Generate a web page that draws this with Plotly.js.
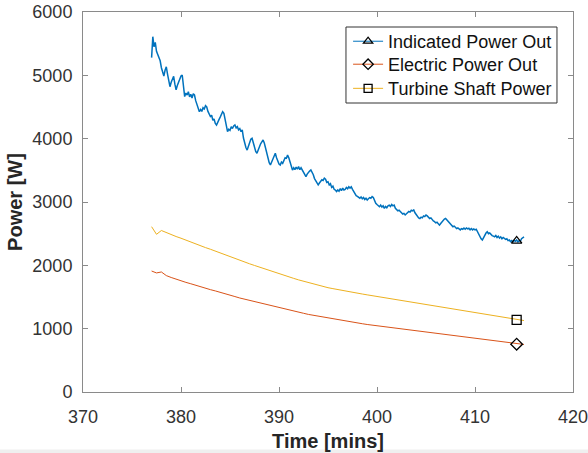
<!DOCTYPE html>
<html>
<head>
<meta charset="utf-8">
<script src="https://cdn.plot.ly/plotly-3.0.1.min.js"></script>
<style>html,body{margin:0;padding:0;background:#fff;}#chart{width:588px;height:453px;}</style>
</head>
<body>
<div id="chart"></div>
<script>
// ---- data ----
const seriesNames = ["Indicated Power Out", "Electric Power Out", "Turbine Shaft Power"];

// Indicated power: samples every 0.125 min starting at 377 min
const indicatedStart = 377;
const indicatedStep = 0.125;
const indicatedPower = [
  5280, 5610, 5450, 5520, 5380, 5330, 5270, 5230,
  5120, 5060, 4990, 5080, 5135, 5020, 4930, 4820,
  4890, 4950, 4985, 4860, 4770, 4840, 4900, 4960,
  4990, 5005, 4860, 4665, 4720, 4690, 4740, 4660,
  4700, 4640, 4710, 4690, 4600, 4530, 4470, 4425,
  4460, 4430, 4490, 4470, 4520, 4500, 4430, 4390,
  4350, 4370, 4290, 4310, 4240, 4215, 4270, 4300,
  4340, 4380, 4425, 4400, 4290, 4200, 4110, 4150,
  4130, 4190, 4160, 4200, 4215, 4170, 4190, 4140,
  4160, 4110, 4140, 4010, 3920, 3860, 3820, 3880,
  3930, 3990, 4005, 3930, 3850, 3800, 3770, 3830,
  3870, 3920, 3950, 3980, 3930, 3850, 3760, 3690,
  3620, 3585, 3640, 3690, 3740, 3770, 3700, 3640,
  3600, 3585, 3630, 3610, 3670, 3700, 3690, 3740,
  3700, 3620, 3560, 3505, 3540, 3510, 3550, 3520,
  3560, 3510, 3540, 3500, 3460, 3420, 3400, 3440,
  3470, 3490, 3505, 3470, 3430, 3370, 3330, 3290,
  3270, 3300, 3320, 3350, 3340, 3375, 3360, 3310,
  3320, 3270, 3290, 3230, 3250, 3200, 3190, 3165,
  3190, 3170, 3210, 3180, 3220, 3190, 3200, 3230,
  3210, 3240, 3220, 3240, 3200, 3160, 3130, 3100,
  3090, 3070, 3060, 3080, 3050, 3070, 3040, 3060,
  3030, 3050, 3070, 3060, 3085, 3070, 3020, 2980,
  2960, 2940, 2925, 2950, 2920, 2940, 2900, 2930,
  2910, 2940, 2950, 2930, 2960, 2940, 2950, 2900,
  2880, 2860, 2870, 2840, 2830, 2810, 2820, 2795,
  2810, 2830, 2850, 2840, 2870, 2860, 2875, 2830,
  2800, 2770, 2750, 2740, 2760, 2750, 2780, 2770,
  2795, 2780, 2760, 2740, 2750, 2720, 2700, 2690,
  2670, 2680, 2650, 2635, 2660, 2690, 2710, 2730,
  2740, 2720, 2700, 2670, 2650, 2630, 2610, 2620,
  2600, 2580, 2590, 2570, 2560, 2580, 2570, 2590,
  2570, 2590, 2575, 2585, 2560, 2580, 2560, 2575,
  2560, 2570, 2530, 2490, 2460, 2420, 2400, 2440,
  2480, 2510, 2530, 2500, 2510, 2480, 2470, 2460,
  2450, 2470, 2440, 2460, 2430, 2450, 2420, 2440,
  2425, 2410, 2420, 2390, 2400, 2375, 2390, 2370,
  2395, 2380, 2400, 2370, 2390, 2380, 2420, 2440,
  2450
];

// Electric and turbine shaft power: samples every 0.5 min starting at 377 min
const slowStart = 377;
const slowStep = 0.5;
const electricPower = [
  1910, 1880, 1895, 1838, 1808, 1780, 1757, 1731, 1709, 1684,
  1662, 1638, 1616, 1596, 1571, 1550, 1527, 1507, 1484, 1465,
  1443, 1424, 1403, 1386, 1365, 1348, 1328, 1311, 1292, 1277,
  1258, 1243, 1225, 1211, 1194, 1181, 1165, 1153, 1138, 1127,
  1113, 1102, 1089, 1078, 1066, 1056, 1044, 1034, 1022, 1013,
  1001, 991, 980, 971, 960, 951, 940, 931, 920, 911,
  900, 891, 880, 872, 861, 852, 842, 834, 823, 815,
  805, 797, 787, 779, 769, 761, 751
];
const turbinePower = [
  2610, 2490, 2550, 2515, 2488, 2455, 2428, 2396, 2369, 2337,
  2311, 2280, 2254, 2224, 2198, 2168, 2143, 2112, 2078, 2052,
  2024, 1998, 1971, 1945, 1919, 1894, 1867, 1843, 1817, 1794,
  1770, 1748, 1727, 1706, 1686, 1666, 1647, 1632, 1616, 1602,
  1587, 1574, 1560, 1547, 1534, 1521, 1508, 1496, 1482, 1470,
  1457, 1445, 1431, 1420, 1406, 1394, 1381, 1369, 1355, 1343,
  1330, 1318, 1304, 1292, 1279, 1268, 1253, 1242, 1228, 1216,
  1203, 1191, 1177, 1166, 1152, 1141, 1128
];

// single end markers
const markerTime = [414.25];
const indicatedMarker = [2385];
const electricMarker = [755];
const turbineMarker = [1140];

const xTicks = [370, 380, 390, 400, 410, 420];
const yTicks = [0, 1000, 2000, 3000, 4000, 5000, 6000];

// ---- styles ----
const colors = ["#0072BD", "#D95319", "#EDB120"];
const symbols = ["triangle-up-open", "diamond-open", "square-open"];
const FONT = "Liberation Sans, Arial, Helvetica, sans-serif";
const legendIds = ["legend", "legend2", "legend3"];
const legendTops = [0.971, 0.9105, 0.847];

const traces = [
  {type: "scatter", mode: "lines", x0: indicatedStart, dx: indicatedStep, y: indicatedPower,
   line: {color: colors[0], width: 1.5}, showlegend: false, hoverinfo: "skip"},
  {type: "scatter", mode: "lines", x0: slowStart, dx: slowStep, y: electricPower,
   line: {color: colors[1], width: 1}, showlegend: false, hoverinfo: "skip"},
  {type: "scatter", mode: "lines", x0: slowStart, dx: slowStep, y: turbinePower,
   line: {color: colors[2], width: 1}, showlegend: false, hoverinfo: "skip"},
];
const markerY = [indicatedMarker, electricMarker, turbineMarker];
for (let i = 0; i < 3; i++) {
  traces.push({type: "scatter", mode: "markers", x: markerTime, y: markerY[i],
    marker: {symbol: symbols[i], size: 9, color: "#000", line: {width: 1.3, color: "#000"}},
    showlegend: false, hoverinfo: "skip"});
}
for (let i = 0; i < 3; i++) {
  traces.push({type: "scatter", mode: "lines+markers", x: [null], y: [null], name: seriesNames[i],
    legend: legendIds[i],
    line: {color: colors[i], width: 1},
    marker: {symbol: symbols[i], size: 8, color: "#000", line: {width: 1.3, color: "#000"}},
    showlegend: true});
}

const axisCommon = {
  showgrid: false, zeroline: false, showline: true, linecolor: "#8a8a8a", linewidth: 1,
  mirror: "ticks", ticks: "inside", ticklen: 5, tickwidth: 1, tickcolor: "#8a8a8a",
  tickfont: {family: FONT, size: 18, color: "#333"}, automargin: false,
  ticklabeloverflow: "allow"
};

const layout = {
  width: 588, height: 453,
  margin: {l: 83, r: 15, t: 12, b: 61},
  paper_bgcolor: "#fff", plot_bgcolor: "#fff",
  font: {family: FONT, color: "#262626"},
  xaxis: Object.assign({}, axisCommon, {
    range: [370, 420], tickvals: xTicks, ticktext: xTicks.map(String),
    ticklabelstandoff: 8,
    title: {text: "Time [mins]", font: {family: FONT, size: 20, weight: "bold", color: "#262626"}, standoff: 8}
  }),
  yaxis: Object.assign({}, axisCommon, {
    range: [0, 6000], tickvals: yTicks, ticktext: yTicks.map(String),
    ticklabelstandoff: 6,
    title: {text: "Power [W]", font: {family: FONT, size: 20, weight: "bold", color: "#262626"}, standoff: 4}
  }),
  shapes: [
    {type: "rect", xref: "paper", yref: "paper", x0: 0.5367, x1: 0.9673, y0: 0.7605, y1: 0.9605,
     line: {color: "#333", width: 1}, fillcolor: "#fff", layer: "above"},
    {type: "rect", xref: "paper", yref: "paper", x0: -0.17, x1: 1.04, y0: -0.1605, y1: -0.151,
     line: {width: 0}, fillcolor: "#efefef", layer: "below"}
  ],
  showlegend: true
};
for (let i = 0; i < 3; i++) {
  layout[legendIds[i]] = {
    x: 0.541, y: legendTops[i], xanchor: "left", yanchor: "top",
    bgcolor: "rgba(0,0,0,0)", borderwidth: 0,
    font: {family: FONT, size: 18, color: "#111"},
    itemwidth: 30
  };
}

Plotly.newPlot("chart", traces, layout, {displayModeBar: false, staticPlot: true});
</script>
</body>
</html>
